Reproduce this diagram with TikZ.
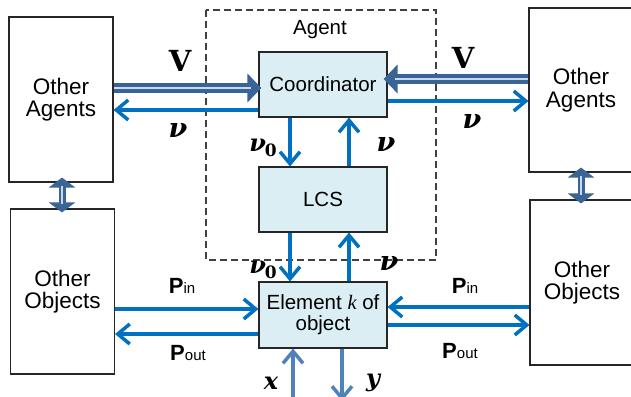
\documentclass[tikz,border=0pt]{standalone}
\usepackage[no-math]{fontspec}
\setmainfont{Liberation Sans}
\newfontfamily\serifk{Liberation Serif}
\newfontfamily\djs{DejaVu Serif}
\usetikzlibrary{arrows.meta,calc}
\definecolor{thinblue}{HTML}{0070C0}
\definecolor{darkblue}{HTML}{3A6396}
\definecolor{lightline}{HTML}{C9D8EC}
\definecolor{boxfill}{HTML}{DAEEF3}
\definecolor{xyblue}{HTML}{4F81BD}
\newcommand{\bnu}{{\djs\bfseries\itshape ν}}
\newcommand{\bnuz}{{\djs\bfseries\itshape ν\kern-1pt\raisebox{-5pt}{\fontsize{17}{17}\selectfont\upshape 0}}}
\begin{document}
\begin{tikzpicture}[x=1pt,y=-1pt,
  outerbox/.style={draw=black!85, line width=1.1pt, fill=white, inner sep=0pt, align=center,
    minimum width=104pt, minimum height=165pt, font=\fontsize{22.5}{22.5}\selectfont},
  innerbox/.style={draw=black!85, line width=1.1pt, fill=boxfill, minimum width=128pt,
    minimum height=65pt, inner sep=0pt, align=center, font=\fontsize{20.5}{21}\selectfont},
  thinarrow/.style={draw=thinblue, line width=3.5pt, -{Straight Barb[length=12pt,width=20pt]}},
  xyarrow/.style={draw=xyblue, line width=3.5pt, -{Straight Barb[length=12pt,width=20pt]}},
  thickarrow/.style={draw=darkblue, line width=10.5pt, -{Triangle[length=14pt,width=28pt]}},
  innerline/.style={draw=lightline, line width=1.8pt},
  vdouble/.style={draw=darkblue, line width=7pt, {Triangle[length=10pt,width=26pt]}-{Triangle[length=10pt,width=26pt]}},
  Vlabel/.style={font=\djs\bfseries\fontsize{29}{29}\selectfont, inner sep=0pt},
  mlabel/.style={font=\fontsize{27}{27}\selectfont, inner sep=0pt},
  slabel/.style={font=\fontsize{24}{24}\selectfont, inner sep=0pt},
  plabel/.style={font=\fontsize{22}{22}\selectfont, inner sep=0pt},
]
\useasboundingbox (0,0) rectangle (631,396);
\clip (0,0) rectangle (631,396);
\fill[white] (0,0) rectangle (631,396);

% dashed agent frame
\draw[black!75, line width=1.1pt, dash pattern=on 7pt off 4pt] (206,10) rectangle (436,260);
\node[font=\fontsize{20.5}{20}\selectfont] (agent) at (320,30) {Agent};

% outer boxes
\node[outerbox] (LA) at (61,99.5) {Other\\Agents};
\node[outerbox] (LO) at (62.5,291.5) {Other\\Objects};
\node[outerbox, minimum height=164pt] (RA) at (581,90) {Other\\Agents};
\node[outerbox] (RO) at (582,282.5) {Other\\Objects};

% inner boxes
\node[innerbox] (C) at (323,84.5) {Coordinator};
\node[innerbox] (L) at (323,199.5) {LCS};
\node[innerbox, minimum height=66pt] (E) at (323,315) {Element {\serifk\itshape k} of\\object};

% thick double arrows V
\draw[thickarrow] (LA.east |- 0,88) -- ($(C.west |- 0,88)+(3,0)$);
\draw[innerline] (LA.east |- 0,88) -- ($(C.west |- 0,88)+(-7,0)$);
\draw[thickarrow] (RA.west |- 0,79) -- ($(C.east |- 0,79)+(-4,0)$);
\draw[innerline] (RA.west |- 0,79) -- ($(C.east |- 0,79)+(7,0)$);

% thin arrows nu
\draw[thinarrow] (C.west |- 0,110) -- (LA.east |- 0,110);
\draw[thinarrow] (C.east |- 0,101) -- (RA.west |- 0,101);

% vertical between coordinator, LCS, element
\draw[thinarrow] (C.south -| 290,0) -- (L.north -| 290,0);
\draw[thinarrow] (L.north -| 349,0) -- (C.south -| 349,0);
\draw[thinarrow] (L.south -| 290,0) -- (E.north -| 290,0);
\draw[thinarrow] (E.north -| 349,0) -- (L.south -| 349,0);

% P arrows
\draw[thinarrow] (LO.east |- 0,309) -- (E.west |- 0,309);
\draw[thinarrow] (E.west |- 0,334) -- (LO.east |- 0,334);
\draw[thinarrow] (RO.west |- 0,307) -- (E.east |- 0,307);
\draw[thinarrow] (E.east |- 0,325) -- (RO.west |- 0,325);

% x and y
\coordinate (xin) at (293,400);
\coordinate (yout) at (342,401);
\draw[xyarrow] (xin) -- (E.south -| xin);
\draw[xyarrow] (E.south -| yout) -- (yout);

% vertical double arrows between outer boxes
\draw[vdouble] ($(LA.south -| 62,0)+(0,-5)$) -- ($(LO.north -| 62,0)+(0,4)$);
\draw[innerline, line width=1.4pt] ($(LA.south -| 62,0)+(0,3)$) -- ($(LO.north -| 62,0)+(0,-4)$);
\draw[vdouble] ($(RA.south -| 581,0)+(0,-5)$) -- ($(RO.north -| 581,0)+(0,4)$);
\draw[innerline, line width=1.4pt] ($(RA.south -| 581,0)+(0,3)$) -- ($(RO.north -| 581,0)+(0,-4)$);

% labels
\node[Vlabel] (lV1) at (180,61) {V};
\node[mlabel] (lnu1) at (178,130) {\bnu};
\node[slabel] (lnu0a) at (263,148) {\bnuz};
\node[Vlabel] (lV2) at (463,58) {V};
\node[mlabel] (lnu2) at (472,121) {\bnu};
\node[mlabel] (lnu3) at (386,144) {\bnu};
\node[slabel] (lnu0b) at (263,270) {\bnuz};
\node[mlabel] (lnu4) at (389,263) {\bnu};
\node[plabel] (pin1) at (182,286) {\textbf{P}{\fontsize{15}{15}\selectfont in}};
\node[plabel] (pout1) at (188,353) {\textbf{P}{\fontsize{15}{15}\selectfont out}};
\node[plabel] (pin2) at (465,286) {\textbf{P}{\fontsize{15}{15}\selectfont in}};
\node[plabel] (pout2) at (460,351) {\textbf{P}{\fontsize{15}{15}\selectfont out}};
\node[slabel] (lx) at (271,383) {{\djs\bfseries\itshape x}};
\node[slabel] (ly) at (373,383) {{\djs\bfseries\itshape y}};
\end{tikzpicture}
\end{document}
